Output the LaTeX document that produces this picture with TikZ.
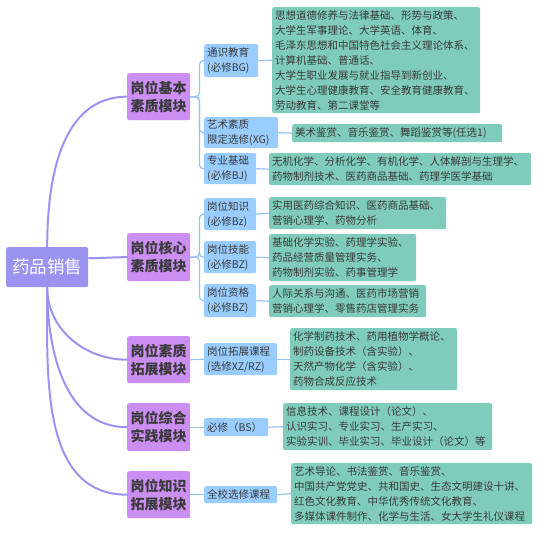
\documentclass[tikz,border=0pt]{standalone}
\usepackage{fontspec}
\setmainfont{Noto Sans CJK SC}
\usepackage{tikz}

\definecolor{rootc}{RGB}{155,147,240}
\definecolor{modc}{RGB}{203,142,242}
\definecolor{subc}{RGB}{153,204,255}
\definecolor{linec}{RGB}{150,192,245}
\definecolor{leafc}{RGB}{127,204,188}
\definecolor{ink}{RGB}{58,58,58}

\begin{document}
\begin{tikzpicture}[x=1pt,y=-1pt,
  box/.style={anchor=north west,inner xsep=3pt,inner ysep=0pt,rounded corners=2pt,text=ink},
  top/.style={box,fill=rootc,text=white,font=\fontsize{17.5}{20}\selectfont,align=center},
  mod/.style={box,fill=modc,font=\bfseries\fontsize{14}{18}\selectfont,align=center},
  sub/.style={box,fill=subc,font=\fontsize{10.5}{15}\selectfont,align=left},
  leaf/.style={box,fill=leafc,font=\fontsize{10.5}{15}\selectfont,align=left},
  trunk/.style={draw=rootc,line width=2pt},
  branch/.style={draw=linec,line width=1.2pt,rounded corners=4pt}]
\useasboundingbox (0,0) rectangle (558,535);

\node [top,text width=76pt,minimum height=40pt] (r) at (6,247) {药品销售};

% modules
\node [mod,text width=57pt,minimum height=47pt] (a1) at (127,73) {岗位基本\\素质模块};
\node [mod,text width=57pt,minimum height=48pt] (a2) at (127,233) {岗位核心\\素质模块};
\node [mod,text width=57pt,minimum height=47pt] (a3) at (127,336) {岗位素质\\拓展模块};
\node [mod,text width=57pt,minimum height=48pt] (a4) at (127,403) {岗位综合\\实践模块};
\node [mod,text width=57pt,minimum height=47pt] (a5) at (127,471) {岗位知识\\拓展模块};

% course types
\node [sub,text width=48pt,minimum height=33pt] (b1) at (204,44) {通识教育\\(必修BG)};
\node [sub,text width=68pt,minimum height=31pt] (b2) at (204,117) {艺术素质\\限定选修(XG)};
\node [sub,text width=46pt,minimum height=31pt] (b3) at (204,153) {专业基础\\(必修BJ)};
\node [sub,text width=46pt,minimum height=32pt] (b4) at (204,198) {岗位知识\\(必修Bz)};
\node [sub,text width=46pt,minimum height=32pt] (b5) at (204,241) {岗位技能\\(必修BZ)};
\node [sub,text width=46pt,minimum height=33pt] (b6) at (204,284) {岗位资格\\(必修BZ)};
\node [sub,text width=67pt,minimum height=32pt] (b7) at (204,343) {岗位拓展课程\\(选修XZ/RZ)};
\node [sub,text width=58pt,minimum height=18pt] (b8) at (204,418) {必修（BS）};
\node [sub,text width=67pt,minimum height=17pt] (b9) at (204,486) {全校选修课程};

% courses
\node [leaf,text width=202pt,minimum height=106pt] (c1) at (272,7) {思想道德修养与法律基础、形势与政策、\\大学生军事理论、大学英语、体育、\\毛泽东思想和中国特色社会主义理论体系、\\计算机基础、普通话、\\大学生职业发展与就业指导到新创业、\\大学生心理健康教育、安全教育健康教育、\\劳动教育、第二课堂等};
\node [leaf,text width=204pt,minimum height=18pt] (c2) at (292,124) {美术鉴赏、音乐鉴赏、舞蹈鉴赏等(任选1)};
\node [leaf,text width=256pt,minimum height=32pt] (c3) at (269,153) {无机化学、分析化学、有机化学、人体解剖与生理学、\\药物制剂技术、医药商品基础、药理学医学基础};
\node [leaf,text width=171pt,minimum height=32pt] (c4) at (269,197) {实用医药综合知识、医药商品基础、\\营销心理学、药物分析};
\node [leaf,text width=141pt,minimum height=47pt] (c5) at (269,234) {基础化学实验、药理学实验、\\药品经营质量管理实务、\\药物制剂实验、药事管理学};
\node [leaf,text width=151pt,minimum height=32pt] (c6) at (269,285) {人际关系与沟通、医药市场营销\\营销心理学、零售药店管理实务};
\node [leaf,text width=161pt,minimum height=62pt] (c7) at (290,328) {化学制药技术、药用植物学概论、\\制药设备技术（含实验）、\\天然产物化学（含实验）、\\药物合成反应技术};
\node [leaf,text width=203pt,minimum height=47pt] (c8) at (283,403) {信息技术、课程设计（论文）、\\认识实习、专业实习、生产实习、\\实验实训、毕业实习、毕业设计（论文）等};
\node [leaf,text width=235pt,minimum height=61pt] (c9) at (291,463) {艺术导论、书法鉴赏、音乐鉴赏、\\中国共产党党史、共和国史、生态文明建设十讲、\\红色文化教育、中华优秀传统文化教育、\\多媒体课件制作、化学与生活、女大学生礼仪课程};

% root to modules
\draw [trunk] (r.north) to[out=90,in=180] (a1.west);
\draw [trunk] ([yshift=9pt]r.east) to[out=0,in=180] (a2.west);
\draw [trunk] (r.south) to[out=-90,in=180] (a3.west);
\draw [trunk] (r.south) to[out=-90,in=180] (a4.west);
\draw [trunk] (r.south) to[out=-90,in=180] (a5.west);

% modules to course types
\foreach \b in {b1,b2,b3}
  \draw [branch] (a1.east) -- ++(9,0) |- (\b.west);
\foreach \b in {b4,b5,b6}
  \draw [branch] (a2.east) -- ++(9,0) |- (\b.west);
\draw [branch] (a3.east) -- (b7.west);
\draw [branch] (a4.east) -- (b8.west);
\draw [branch] (a5.east) -- (b9.west);

% course types to courses
\foreach \i in {1,...,9}
  \draw [branch] (b\i.east) -- (c\i.west);
\end{tikzpicture}
\end{document}
